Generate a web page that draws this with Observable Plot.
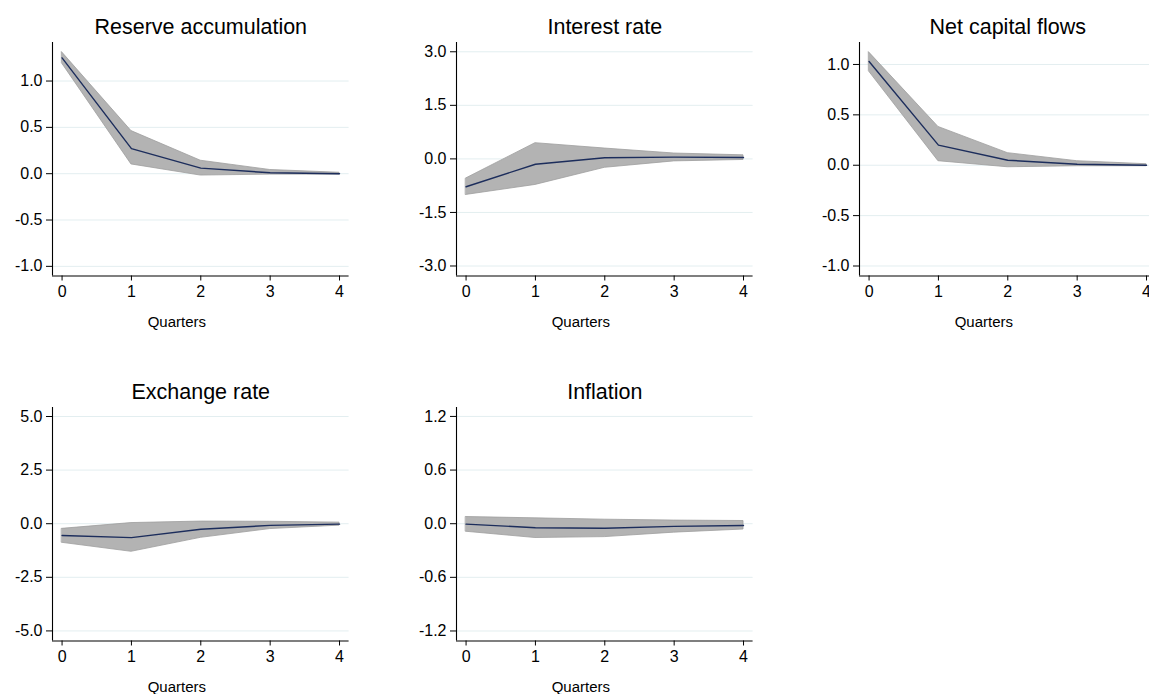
<!DOCTYPE html>
<html>
<head>
<meta charset="utf-8">
<script src="https://cdn.jsdelivr.net/npm/d3@7"></script>
<script src="https://cdn.jsdelivr.net/npm/@observablehq/plot@0.6"></script>
<style>
  html, body { margin: 0; padding: 0; background: #fff; }
  #wrap { position: relative; width: 1149px; height: 694px; overflow: hidden; background: #fff; }
  .panel { position: absolute; }
</style>
</head>
<body>
<div id="wrap"></div>
<script>
// ---- data ----
const quarters = [0, 1, 2, 3, 4];

const reserveIrf = [1.25, 0.27, 0.06, 0.01, 0.00];
const reserveLo  = [1.19, 0.10, -0.02, -0.01, -0.01];
const reserveHi  = [1.31, 0.46, 0.14, 0.04, 0.01];
const reserveTicks = [-1.0, -0.5, 0.0, 0.5, 1.0];

const interestIrf = [-0.78, -0.15, 0.03, 0.05, 0.04];
const interestLo  = [-1.01, -0.73, -0.25, -0.07, -0.03];
const interestHi  = [-0.55, 0.44, 0.29, 0.15, 0.10];
const interestTicks = [-3.0, -1.5, 0.0, 1.5, 3.0];

const capitalIrf = [1.03, 0.20, 0.05, 0.01, 0.00];
const capitalLo  = [0.93, 0.04, -0.02, -0.01, -0.01];
const capitalHi  = [1.12, 0.38, 0.12, 0.04, 0.01];
const capitalTicks = [-1.0, -0.5, 0.0, 0.5, 1.0];

const exchangeIrf = [-0.55, -0.65, -0.26, -0.08, -0.02];
const exchangeLo  = [-0.89, -1.31, -0.66, -0.25, -0.09];
const exchangeHi  = [-0.24, 0.03, 0.10, 0.09, 0.05];
const exchangeTicks = [-5.0, -2.5, 0.0, 2.5, 5.0];

const inflationIrf = [-0.005, -0.045, -0.05, -0.03, -0.02];
const inflationLo  = [-0.09, -0.16, -0.15, -0.10, -0.065];
const inflationHi  = [0.075, 0.06, 0.045, 0.035, 0.03];
const inflationTicks = [-1.2, -0.6, 0.0, 0.6, 1.2];

const titles = ["Reserve accumulation", "Interest rate", "Net capital flows", "Exchange rate", "Inflation"];
const xLabel = "Quarters";

// ---- layout ----
const panels = [
  {title: titles[0], irf: reserveIrf, lo: reserveLo, hi: reserveHi, ticks: reserveTicks, yDomain: [-1.104, 1.416], ax: 51.7, top: 41.7},
  {title: titles[1], irf: interestIrf, lo: interestLo, hi: interestHi, ticks: interestTicks, yDomain: [-3.28, 3.26], ax: 455.7, top: 41.7},
  {title: titles[2], irf: capitalIrf, lo: capitalLo, hi: capitalHi, ticks: capitalTicks, yDomain: [-1.099, 1.218], ax: 859.3, top: 41.7},
  {title: titles[3], irf: exchangeIrf, lo: exchangeLo, hi: exchangeHi, ticks: exchangeTicks, yDomain: [-5.47, 5.42], ax: 51.7, top: 406.7},
  {title: titles[4], irf: inflationIrf, lo: inflationLo, hi: inflationHi, ticks: inflationTicks, yDomain: [-1.312, 1.30], ax: 455.7, top: 406.7}
];

const mL = 55, mR = 15, mT = 42, mB = 62;
const plotW = 296.6, plotH = 233.5;
const xDomain = [-0.138, 4.138];
const fontFamily = "'Liberation Sans', Arial, Helvetica, sans-serif";
const wrap = document.getElementById("wrap");

for (const p of panels) {
  const data = quarters.map((q, i) => ({q, irf: p.irf[i], lo: p.lo[i], hi: p.hi[i]}));
  const chart = Plot.plot({
    width: plotW + mL + mR,
    height: plotH + mT + mB,
    marginLeft: mL, marginRight: mR, marginTop: mT, marginBottom: mB,
    style: {fontFamily, fontSize: "16px", background: "transparent", color: "#000", overflow: "visible"},
    x: {domain: xDomain},
    y: {domain: p.yDomain},
    marks: [
      Plot.gridY(p.ticks, {stroke: "#e3eef0", strokeOpacity: 1, strokeWidth: 1}),
      Plot.areaY(data, {x: "q", y1: "lo", y2: "hi", fill: "#b3b3b3", stroke: "#9e9e9e", strokeWidth: 0.8}),
      Plot.lineY(data, {x: "q", y: "irf", stroke: "#1c2d5c", strokeWidth: 1.4}),
      Plot.ruleX([xDomain[0]], {stroke: "#000", strokeWidth: 1.1}),
      Plot.ruleY([p.yDomain[0]], {stroke: "#000", strokeWidth: 1.1}),
      Plot.axisY(p.ticks, {tickFormat: d => d.toFixed(1), tickSize: 6, tickPadding: 4, fontSize: 16, label: null, stroke: "#000"}),
      Plot.axisX(quarters, {tickFormat: d => String(d), tickSize: 5, tickPadding: 5, fontSize: 16, label: null, stroke: "#000"}),
      Plot.text([p.title], {text: d => d, frameAnchor: "top", dy: -15, lineAnchor: "middle", fontSize: 21.5, fill: "#000"}),
      Plot.text([xLabel], {text: d => d, frameAnchor: "bottom", dx: -24, dy: 46.5, lineAnchor: "middle", fontSize: 15, fill: "#000"})
    ]
  });
  chart.classList.add("panel");
  chart.style.left = (p.ax - mL) + "px";
  chart.style.top = (p.top - mT) + "px";
  wrap.appendChild(chart);
}
</script>
</body>
</html>
